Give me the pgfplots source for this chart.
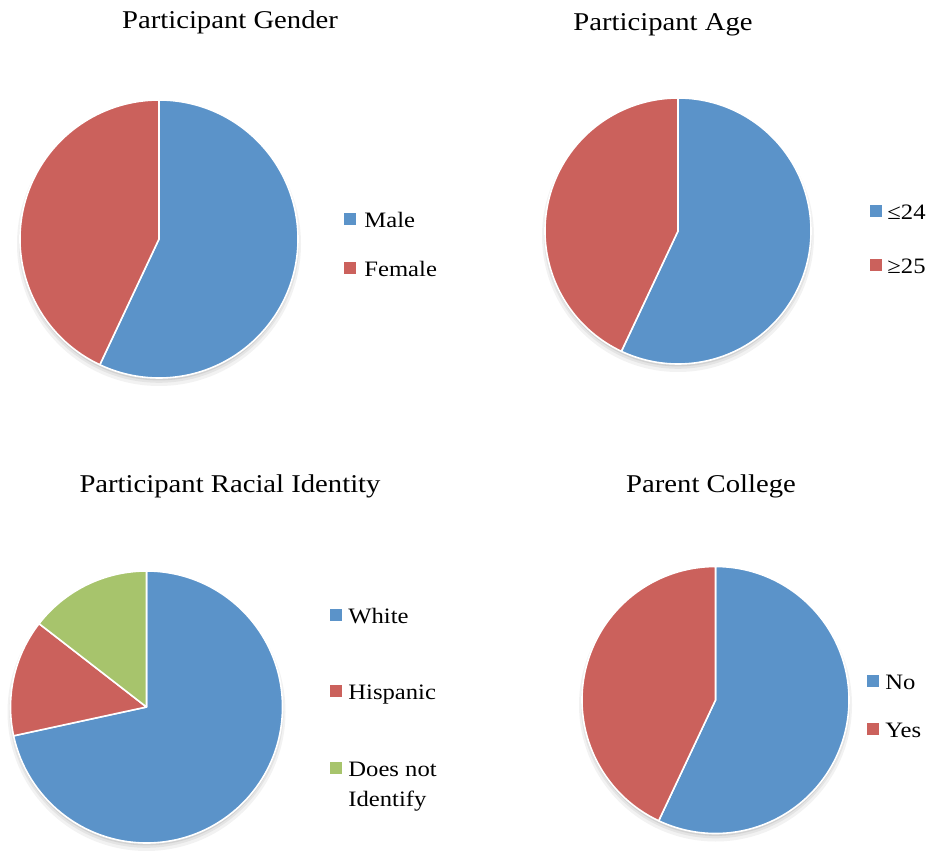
\documentclass[border=0pt]{standalone}
\usepackage{pgfplots}
\pgfplotsset{compat=1.18}
\usepackage{fontspec}
\setmainfont{Liberation Serif}[FakeStretch=1.12]
\definecolor{pblue}{HTML}{5B93C9}
\definecolor{pred}{HTML}{CB615C}
\definecolor{pgreen}{HTML}{A7C46C}
% slice: from percent, to percent (clockwise from 12 o'clock), colour, radius
\newcommand\slice[4]{%
  \fill[#3,draw=white,line width=0.8pt,line join=round] (axis cs:0,0) -- (axis cs:{cos(90-3.6*#1)},{sin(90-3.6*#1)}) arc[start angle={90-3.6*#1}, end angle={90-3.6*#2}, radius=#4] -- cycle;}
\newcommand\pieshadow[1]{%
  \fill[black,opacity=0.05] ([yshift=-2.5pt]axis cs:0,0) circle[radius=#1+1.5pt];
  \fill[black,opacity=0.06] ([yshift=-1.8pt]axis cs:0,0) circle[radius=#1+0.6pt];
  \fill[black,opacity=0.08] ([yshift=-1.2pt]axis cs:0,0) circle[radius=#1];}
\pgfplotsset{pieaxis/.style={hide axis, scale only axis, axis equal image,
  xmin=-1,xmax=1,ymin=-1,ymax=1, width=#1, height=#1, anchor=center, clip=false}}
\begin{document}
\begin{tikzpicture}
\useasboundingbox (0,0) rectangle (464.5pt,425pt);
\tikzset{title/.style={font=\fontsize{12.8}{14}\selectfont},
  leg/.style={font=\fontsize{11}{12}\selectfont, anchor=mid west, inner sep=0pt, yshift=-2pt},
  sq/.style={minimum size=6pt, inner sep=0pt}}
% Participant Gender: Male 57, Female 43
\begin{axis}[pieaxis=139pt, at={(79.5pt,305.5pt)}]
\pieshadow{69.5pt}
\slice{0}{57}{pblue}{69.5pt}
\slice{57}{100}{pred}{69.5pt}
\end{axis}
\node[title] at (115pt,414pt) {Participant Gender};
\node[sq,fill=pblue] at (175pt,315.5pt) {};
\node[leg] at (182pt,315.5pt) {Male};
\node[sq,fill=pred] at (175pt,291pt) {};
\node[leg] at (182pt,291pt) {Female};
% Participant Age: <=24 57, >=25 43
\begin{axis}[pieaxis=133pt, at={(339pt,309.5pt)}]
\pieshadow{66.5pt}
\slice{0}{57}{pblue}{66.5pt}
\slice{57}{100}{pred}{66.5pt}
\end{axis}
\node[title] at (331.5pt,412.5pt) {Participant Age};
\node[sq,fill=pblue] at (438pt,319.5pt) {};
\node[leg] at (443.5pt,319.5pt) {≤24};
\node[sq,fill=pred] at (438pt,292.5pt) {};
\node[leg] at (443.5pt,292.5pt) {≥25};
% Participant Racial Identity: White 72, Hispanic 14, Does not Identify 14
\begin{axis}[pieaxis=136pt, at={(73.25pt,71.5pt)}]
\pieshadow{68pt}
\slice{0}{71.6}{pblue}{68pt}
\slice{71.6}{85.5}{pred}{68pt}
\slice{85.5}{100}{pgreen}{68pt}
\end{axis}
\node[title] at (115pt,182pt) {Participant Racial Identity};
\node[sq,fill=pblue] at (168pt,117.5pt) {};
\node[leg] at (174pt,117.5pt) {White};
\node[sq,fill=pred] at (168pt,79.5pt) {};
\node[leg] at (174pt,79.5pt) {Hispanic};
\node[sq,fill=pgreen] at (168pt,41pt) {};
\node[leg] at (174pt,41pt) {Does not};
\node[leg] at (174pt,26pt) {Identify};
% Parent College: No 57, Yes 43
\begin{axis}[pieaxis=133.5pt, at={(357.75pt,75pt)}]
\pieshadow{66.75pt}
\slice{0}{57}{pblue}{66.75pt}
\slice{57}{100}{pred}{66.75pt}
\end{axis}
\node[title] at (355.5pt,182pt) {Parent College};
\node[sq,fill=pblue] at (436.5pt,84.5pt) {};
\node[leg] at (442.5pt,84.5pt) {No};
\node[sq,fill=pred] at (436.5pt,60.5pt) {};
\node[leg] at (442.5pt,60.5pt) {Yes};
\end{tikzpicture}
\end{document}
